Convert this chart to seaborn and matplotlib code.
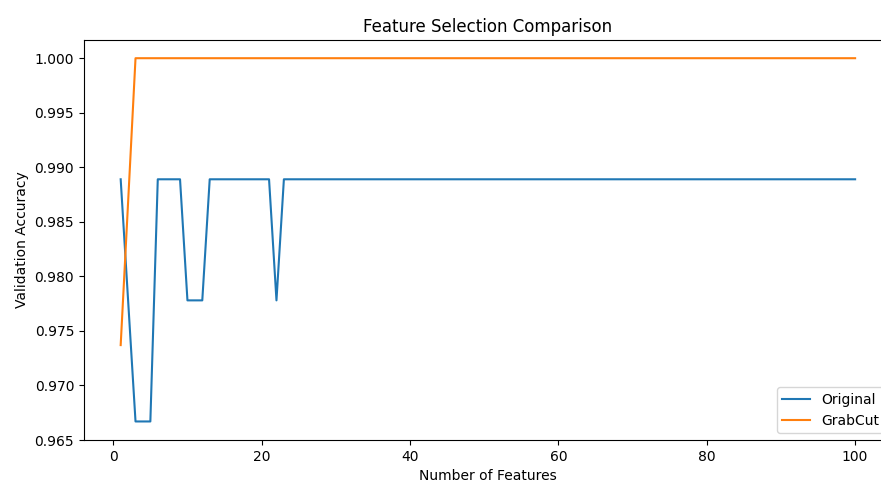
import numpy as np
import pandas as pd
import matplotlib
matplotlib.use("Agg")
import matplotlib.pyplot as plt
import seaborn as sns

# Data
num_features = list(range(1, 101))
original_acc = [0.9889, 0.9778, 0.9667, 0.9667, 0.9667, 0.9889, 0.9889, 0.9889, 0.9889,
                0.9778, 0.9778, 0.9778, 0.9889, 0.9889, 0.9889, 0.9889, 0.9889, 0.9889,
                0.9889, 0.9889, 0.9889, 0.9778] + [0.9889] * 78
grabcut_acc = [0.9737, 0.9868] + [1.0] * 98

df = pd.DataFrame({"n": num_features, "Original": original_acc, "GrabCut": grabcut_acc})

fig = plt.figure(figsize=(8.81, 4.87), dpi=100)
# axes run past the right edge, like the cropped reference
ax = fig.add_axes([0.0953, 0.0965, 0.917, 0.8214])

sns.lineplot(data=df, x="n", y="Original", label="Original", color="tab:blue", ax=ax)
sns.lineplot(data=df, x="n", y="GrabCut", label="GrabCut", color="tab:orange", ax=ax)

ax.set_title("Feature Selection Comparison")
ax.set_xlabel("Number of Features")
ax.set_ylabel("Validation Accuracy")
ax.set_ylim(0.965, 1.00167)
ax.set_yticks([0.965, 0.970, 0.975, 0.980, 0.985, 0.990, 0.995, 1.000])
ax.set_xticks([0, 20, 40, 60, 80, 100])
ax.legend(loc="lower right")

fig.savefig("out.png", dpi=100)
